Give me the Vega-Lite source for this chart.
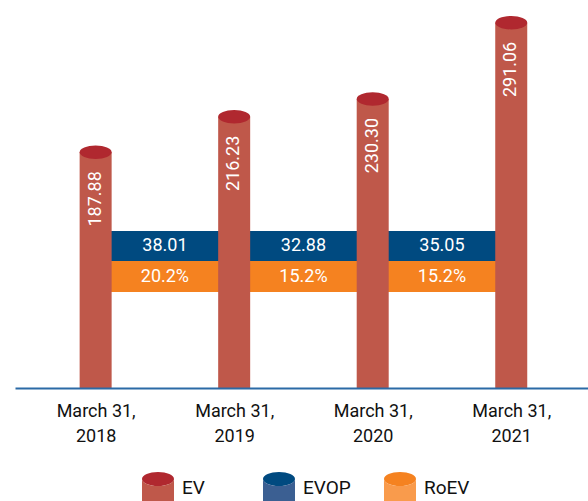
{
  "$schema": "https://vega.github.io/schema/vega-lite/v6.json",
  "width": 573,
  "height": 388,
  "autosize": {"type": "none"},
  "padding": {"left": 15, "top": 0, "right": 0, "bottom": 113},
  "background": "white",
  "config": {"view": {"stroke": null}, "font": "Roboto, sans-serif"},
  "data": {
    "values": [
      {"series": "EV", "year": 2018, "value": 187.88},
      {"series": "EV", "year": 2019, "value": 216.23},
      {"series": "EV", "year": 2020, "value": 230.30},
      {"series": "EV", "year": 2021, "value": 291.06},
      {"series": "EVOP", "from": 2018, "to": 2019, "value": 38.01},
      {"series": "EVOP", "from": 2019, "to": 2020, "value": 32.88},
      {"series": "EVOP", "from": 2020, "to": 2021, "value": 35.05},
      {"series": "RoEV", "from": 2018, "to": 2019, "value": 0.202},
      {"series": "RoEV", "from": 2019, "to": 2020, "value": 0.152},
      {"series": "RoEV", "from": 2020, "to": 2021, "value": 0.152}
    ]
  },
  "layer": [
    {
      "transform": [{"filter": "datum.series === 'EVOP'"}],
      "mark": {"type": "rect"},
      "encoding": {
        "x": {
          "field": "from", "type": "quantitative", "title": null,
          "scale": {"domain": [2017.454, 2021.518], "nice": false, "zero": false},
          "axis": {
            "values": [2018, 2019, 2020, 2021],
            "labelExpr": "['March 31,', '' + datum.value]",
            "grid": false, "ticks": false,
            "domainColor": "#2b6aa6", "domainWidth": 2,
            "labelFont": "Roboto, sans-serif",
            "labelFontSize": 18, "labelColor": "#111111",
            "labelLineHeight": 25, "labelPadding": 14, "labelBaseline": "top",
            "labelFlush": false, "labelOverlap": false,
            "zindex": 1
          }
        },
        "x2": {"field": "to"},
        "y": {"datum": 125.1, "type": "quantitative", "scale": {"domain": [0, 309.2], "nice": false, "zero": true}, "axis": null},
        "y2": {"datum": 101.2},
        "color": {
          "field": "series", "type": "nominal",
          "scale": {"range": ["#b0282f", "#004a80", "#f58220"]},
          "legend": {
            "orient": "none", "legendX": 127, "legendY": 472, "direction": "horizontal", "columns": 3,
            "gridAlign": "all", "columnPadding": 33, "padding": 0, "title": null,
            "symbolType": "M -1 -0.56 A 1 0.44 0 1 1 1 -0.56 A 1 0.44 0 1 1 -1 -0.56 Z",
            "symbolSize": 1024, "symbolStrokeWidth": 0, "symbolOpacity": 1,
            "labelFont": "Roboto, sans-serif",
            "labelFontSize": 19, "labelOffset": 8, "labelOpacity": 0
          }
        }
      }
    },
    {
      "transform": [{"filter": "datum.series === 'RoEV'"}],
      "mark": {"type": "rect"},
      "encoding": {
        "x": {"field": "from", "type": "quantitative", "title": null},
        "x2": {"field": "to"},
        "y": {"datum": 101.2, "type": "quantitative", "axis": null},
        "y2": {"datum": 76.5},
        "color": {"field": "series", "type": "nominal"}
      }
    },
    {
      "transform": [{"filter": "datum.series === 'EV'"}],
      "mark": {"type": "bar", "size": 32},
      "encoding": {
        "x": {"field": "year", "type": "quantitative", "title": null},
        "y": {"field": "value", "type": "quantitative", "axis": null},
        "y2": {"datum": 0},
        "fill": {
          "field": "series", "type": "nominal",
          "scale": {"domain": ["EV", "EVOP", "RoEV"], "range": ["#bf584a", "#3b5f92", "#f99b4c"]},
          "legend": {
            "orient": "none", "legendX": 127, "legendY": 472, "direction": "horizontal", "columns": 3,
            "gridAlign": "all", "columnPadding": 33, "padding": 0, "title": null,
            "symbolType": "M -1 -0.56 A 1 0.44 0 0 0 1 -0.56 L 1 1 L -1 1 Z",
            "symbolSize": 1024, "symbolStrokeWidth": 0, "symbolOpacity": 1,
            "labelFont": "Roboto, sans-serif",
            "labelFontSize": 19, "labelOffset": 8, "labelColor": "#111111"
          }
        }
      }
    },
    {
      "transform": [{"filter": "datum.series === 'EV'"}],
      "mark": {"type": "point", "shape": "M -1 0 A 1 0.42 0 1 1 1 0 A 1 0.42 0 1 1 -1 0 Z", "size": 1024, "filled": true, "opacity": 1, "strokeWidth": 0},
      "encoding": {
        "x": {"field": "year", "type": "quantitative", "title": null},
        "y": {"field": "value", "type": "quantitative", "axis": null},
        "color": {"field": "series", "type": "nominal"}
      }
    },
    {
      "transform": [{"filter": "datum.series === 'EV'"}],
      "mark": {"type": "text", "angle": 270, "align": "right", "baseline": "middle", "dx": -19, "color": "white", "fontSize": 18},
      "encoding": {
        "x": {"field": "year", "type": "quantitative", "title": null},
        "y": {"field": "value", "type": "quantitative", "axis": null},
        "text": {"field": "value", "type": "quantitative", "format": ".2f"}
      }
    },
    {
      "transform": [{"filter": "datum.series === 'EVOP'"}, {"calculate": "(datum.from + datum.to) / 2", "as": "mid"}],
      "mark": {"type": "text", "align": "center", "baseline": "middle", "color": "white", "fontSize": 18},
      "encoding": {
        "x": {"field": "mid", "type": "quantitative", "title": null},
        "y": {"datum": 113.1, "type": "quantitative", "axis": null},
        "text": {"field": "value", "type": "quantitative", "format": ".2f"}
      }
    },
    {
      "transform": [{"filter": "datum.series === 'RoEV'"}, {"calculate": "(datum.from + datum.to) / 2", "as": "mid"}],
      "mark": {"type": "text", "align": "center", "baseline": "middle", "color": "white", "fontSize": 18},
      "encoding": {
        "x": {"field": "mid", "type": "quantitative", "title": null},
        "y": {"datum": 88.8, "type": "quantitative", "axis": null},
        "text": {"field": "value", "type": "quantitative", "format": ".1%"}
      }
    }
  ]
}
